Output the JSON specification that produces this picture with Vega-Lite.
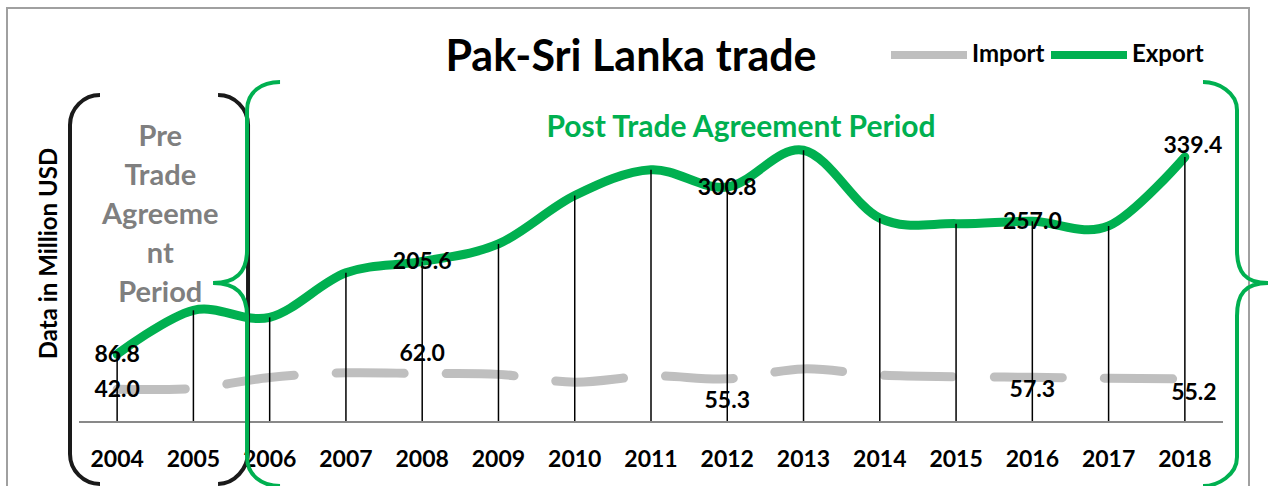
{
  "$schema": "https://vega.github.io/schema/vega-lite/v6.json",
  "width": 1242,
  "height": 490,
  "autosize": {"type": "none"},
  "padding": {"left": 7, "top": 8, "right": 20, "bottom": 0},
  "background": "white",
  "config": {
    "font": "Lato",
    "view": {"stroke": "#A0A0A0", "strokeWidth": 2}
  },
  "title": {
    "text": "Pak-Sri Lanka trade",
    "fontSize": 43,
    "fontWeight": "bold",
    "color": "black",
    "anchor": "middle",
    "frame": "group",
    "baseline": "alphabetic",
    "offset": -106,
    "dx": 3
  },
  "datasets": {
    "trade": [
      {"year": "2004", "series": "Export", "value": 86.8},
      {"year": "2005", "series": "Export", "value": 143},
      {"year": "2006", "series": "Export", "value": 134},
      {"year": "2007", "series": "Export", "value": 191},
      {"year": "2008", "series": "Export", "value": 205.6},
      {"year": "2009", "series": "Export", "value": 228},
      {"year": "2010", "series": "Export", "value": 290},
      {"year": "2011", "series": "Export", "value": 323},
      {"year": "2012", "series": "Export", "value": 300.8},
      {"year": "2013", "series": "Export", "value": 348},
      {"year": "2014", "series": "Export", "value": 261},
      {"year": "2015", "series": "Export", "value": 254},
      {"year": "2016", "series": "Export", "value": 257.0},
      {"year": "2017", "series": "Export", "value": 251},
      {"year": "2018", "series": "Export", "value": 339.4},
      {"year": "2004", "series": "Import", "value": 42.0},
      {"year": "2005", "series": "Import", "value": 43},
      {"year": "2006", "series": "Import", "value": 57},
      {"year": "2007", "series": "Import", "value": 63},
      {"year": "2008", "series": "Import", "value": 62.0},
      {"year": "2009", "series": "Import", "value": 61},
      {"year": "2010", "series": "Import", "value": 51},
      {"year": "2011", "series": "Import", "value": 59},
      {"year": "2012", "series": "Import", "value": 55.3},
      {"year": "2013", "series": "Import", "value": 68},
      {"year": "2014", "series": "Import", "value": 60},
      {"year": "2015", "series": "Import", "value": 58},
      {"year": "2016", "series": "Import", "value": 57.3},
      {"year": "2017", "series": "Import", "value": 56},
      {"year": "2018", "series": "Import", "value": 55.2}
    ]
  },
  "layer": [
    {
      "data": {"name": "trade"},
      "transform": [{"filter": "datum.series === 'Import'"}],
      "mark": {"type": "line", "interpolate": "cardinal", "strokeWidth": 9, "strokeCap": "round", "strokeDash": [68, 42]},
      "encoding": {
        "x": {
          "field": "year", "type": "ordinal", "bandPosition": 0.5,
          "scale": {"type": "band", "paddingInner": 0, "paddingOuter": 0.6425, "align": 0.7347},
          "axis": {
            "title": null, "domain": false, "ticks": false, "labelAngle": 0,
            "labelFontSize": 23, "labelFontWeight": "bold", "labelColor": "black",
            "labelPadding": 26, "offset": -76, "grid": false
          }
        },
        "y": {
          "field": "value", "type": "quantitative",
          "scale": {"domain": [-97.3, 530.1], "nice": false, "zero": false},
          "axis": {
            "title": "Data in Million USD", "labels": false, "ticks": false, "domain": false, "grid": false,
            "titleFontSize": 24, "titleFontWeight": "bold", "titleColor": "black",
            "offset": -54, "titlePadding": 0
          }
        },
        "color": {
          "field": "series", "type": "nominal",
          "scale": {"domain": ["Import", "Export"], "range": ["#BFBFBF", "#00B050"]},
          "legend": {
            "title": null, "orient": "none", "legendX": 880, "legendY": 5, "direction": "horizontal",
            "symbolType": "stroke", "symbolStrokeWidth": 8, "symbolSize": 5776,
            "labelFontSize": 24, "labelFontWeight": "bold", "labelColor": "black",
            "labelOffset": 1, "columnPadding": -10, "symbolOpacity": 1
          }
        }
      }
    },
    {
      "data": {"name": "trade"},
      "transform": [{"filter": "datum.series === 'Export'"}],
      "mark": {"type": "line", "interpolate": "cardinal", "strokeWidth": 9, "strokeCap": "round"},
      "encoding": {
        "x": {"field": "year", "type": "ordinal", "bandPosition": 0.5},
        "y": {"field": "value", "type": "quantitative"},
        "color": {"field": "series", "type": "nominal"}
      }
    },
    {
      "data": {"name": "trade"},
      "transform": [{"filter": "datum.series === 'Export'"}],
      "mark": {"type": "rule", "color": "black", "strokeWidth": 1.5},
      "encoding": {
        "x": {"field": "year", "type": "ordinal", "bandPosition": 0.5},
        "y": {"field": "value", "type": "quantitative"},
        "y2": {"datum": 0}
      }
    },
    {
      "data": {"values": [{}]},
      "mark": {"type": "rule", "color": "#898989", "strokeWidth": 2},
      "encoding": {
        "x": {"datum": "2004", "type": "ordinal", "bandPosition": 0},
        "x2": {"datum": "2018", "bandPosition": 1},
        "y": {"datum": 0, "type": "quantitative"}
      }
    },
    {
      "data": {"name": "trade"},
      "transform": [{"filter": "(datum.series === 'Export' && indexof(['2004','2008','2012','2016'], datum.year) >= 0) || (datum.series === 'Import' && datum.year === '2004')"}],
      "mark": {"type": "text", "fontSize": 23, "fontWeight": "bold", "color": "black", "align": "center", "baseline": "middle", "dy": 1},
      "encoding": {
        "x": {"field": "year", "type": "ordinal", "bandPosition": 0.5},
        "y": {"field": "value", "type": "quantitative"},
        "text": {"field": "value", "type": "quantitative", "format": ".1f"}
      }
    },
    {
      "data": {"name": "trade"},
      "transform": [{"filter": "datum.series === 'Import' && datum.year === '2008'"}],
      "mark": {"type": "text", "fontSize": 23, "fontWeight": "bold", "color": "black", "align": "center", "baseline": "middle", "dy": -20},
      "encoding": {
        "x": {"field": "year", "type": "ordinal", "bandPosition": 0.5},
        "y": {"field": "value", "type": "quantitative"},
        "text": {"field": "value", "type": "quantitative", "format": ".1f"}
      }
    },
    {
      "data": {"name": "trade"},
      "transform": [{"filter": "datum.series === 'Import' && datum.year === '2012'"}],
      "mark": {"type": "text", "fontSize": 23, "fontWeight": "bold", "color": "black", "align": "center", "baseline": "middle", "dy": 22},
      "encoding": {
        "x": {"field": "year", "type": "ordinal", "bandPosition": 0.5},
        "y": {"field": "value", "type": "quantitative"},
        "text": {"field": "value", "type": "quantitative", "format": ".1f"}
      }
    },
    {
      "data": {"name": "trade"},
      "transform": [{"filter": "datum.series === 'Import' && datum.year === '2016'"}],
      "mark": {"type": "text", "fontSize": 23, "fontWeight": "bold", "color": "black", "align": "center", "baseline": "middle", "dy": 13},
      "encoding": {
        "x": {"field": "year", "type": "ordinal", "bandPosition": 0.5},
        "y": {"field": "value", "type": "quantitative"},
        "text": {"field": "value", "type": "quantitative", "format": ".1f"}
      }
    },
    {
      "data": {"name": "trade"},
      "transform": [{"filter": "datum.series === 'Export' && datum.year === '2018'"}],
      "mark": {"type": "text", "fontSize": 23, "fontWeight": "bold", "color": "black", "align": "center", "baseline": "middle", "dx": 8, "dy": -11},
      "encoding": {
        "x": {"field": "year", "type": "ordinal", "bandPosition": 0.5},
        "y": {"field": "value", "type": "quantitative"},
        "text": {"field": "value", "type": "quantitative", "format": ".1f"}
      }
    },
    {
      "data": {"name": "trade"},
      "transform": [{"filter": "datum.series === 'Import' && datum.year === '2018'"}],
      "mark": {"type": "text", "fontSize": 23, "fontWeight": "bold", "color": "black", "align": "center", "baseline": "middle", "dx": 9, "dy": 14},
      "encoding": {
        "x": {"field": "year", "type": "ordinal", "bandPosition": 0.5},
        "y": {"field": "value", "type": "quantitative"},
        "text": {"field": "value", "type": "quantitative", "format": ".1f"}
      }
    },
    {
      "data": {"values": [{}]},
      "mark": {"type": "text", "text": ["Pre", "Trade", "Agreeme", "nt", "Period"], "fontSize": 29, "fontWeight": "bold", "color": "#7F7F7F", "align": "center", "baseline": "middle", "lineHeight": 39, "dx": 5},
      "encoding": {
        "x": {"datum": "2004", "type": "ordinal", "bandPosition": 1},
        "y": {"datum": 365, "type": "quantitative"}
      }
    },
    {
      "data": {"values": [{}]},
      "mark": {"type": "text", "text": "Post Trade Agreement Period", "fontSize": 30, "fontWeight": "bold", "color": "#00B050", "align": "center", "baseline": "middle"},
      "encoding": {
        "x": {"datum": "2012", "type": "ordinal", "bandPosition": 0.68},
        "y": {"datum": 376, "type": "quantitative"}
      }
    },
    {
      "data": {"values": [{}]},
      "mark": {"type": "point", "shape": "M21,-327 C4.5,-327 -9,-313.5 -9,-297 L-9,32 C-9,48.5 4.5,62 21,62", "size": 4, "filled": false, "stroke": "#1A1A1A", "strokeWidth": 4, "opacity": 1},
      "encoding": {
        "x": {"datum": "2004", "type": "ordinal", "bandPosition": 0},
        "y": {"datum": 0, "type": "quantitative"}
      }
    },
    {
      "data": {"values": [{}]},
      "mark": {"type": "point", "shape": "M-13.5,-327 C3,-327 16.5,-313.5 16.5,-297 L16.5,30 C16.5,46.5 3,62 -13.5,62", "size": 4, "filled": false, "stroke": "#1A1A1A", "strokeWidth": 4, "opacity": 1},
      "encoding": {
        "x": {"datum": "2005", "type": "ordinal", "bandPosition": 1},
        "y": {"datum": 0, "type": "quantitative"}
      }
    },
    {
      "data": {"values": [{}]},
      "mark": {"type": "point", "shape": "M48.5,-340 C30,-340 15.5,-330 15.5,-312 L15.5,-172 C15.5,-150 5,-139 -18.5,-139 C5,-139 15.5,-128 15.5,-106 L15.5,35 C15.5,53 30,64 48.5,64", "size": 4, "filled": false, "stroke": "#00B050", "strokeWidth": 4, "opacity": 1},
      "encoding": {
        "x": {"datum": "2006", "type": "ordinal", "bandPosition": 0},
        "y": {"datum": 0, "type": "quantitative"}
      }
    },
    {
      "data": {"values": [{}]},
      "mark": {"type": "point", "shape": "M-20,-340 C-5,-340 14,-330 14,-312 L14,-172 C14,-150 22,-139 45,-139 C22,-139 14,-128 14,-106 L14,35 C14,53 -5,64 -20,64", "size": 4, "filled": false, "stroke": "#00B050", "strokeWidth": 4, "opacity": 1},
      "encoding": {
        "x": {"datum": "2018", "type": "ordinal", "bandPosition": 1},
        "y": {"datum": 0, "type": "quantitative"}
      }
    }
  ]
}
